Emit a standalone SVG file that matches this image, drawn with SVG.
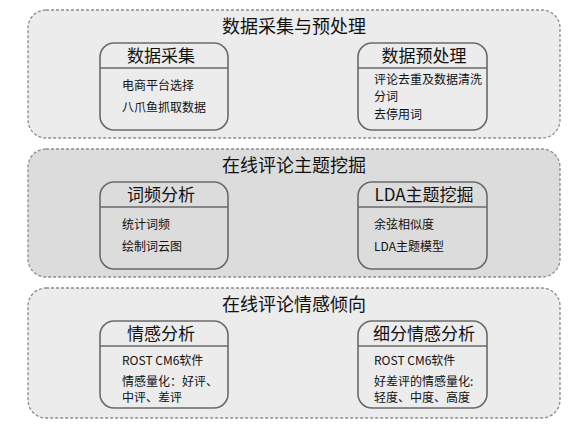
<svg xmlns="http://www.w3.org/2000/svg" width="571" height="428" viewBox="0 0 571 428">
<style>
.panel{stroke:#8c8c8c;stroke-width:1.3;stroke-dasharray:3 2}
.p1{fill:#ececec}
.p2{fill:#dcdcdc}
.box{fill:none;stroke:#6a6a6a;stroke-width:1.6}
.sep{stroke:#6a6a6a;stroke-width:1.6}
text{font-family:"Noto Sans CJK SC","Noto Sans",sans-serif;fill:#111}
.title{font-size:18px;text-anchor:middle}
.head{font-size:17px;text-anchor:middle}
.body{font-size:12px}
</style>
<rect width="571" height="428" fill="#ffffff"/>
<g id="panel-preprocess">
<rect class="panel p1" x="28" y="10" width="532" height="128" rx="18"/>
<text class="title" x="294" y="33">数据采集与预处理</text>
</g>
<g id="node-collect">
<rect class="box" x="100" y="43" width="128" height="87" rx="14"/>
<line class="sep" x1="100" y1="68" x2="228" y2="68"/>
<text class="head" x="161" y="62">数据采集</text>
<text class="body" x="122" y="90">电商平台选择</text>
<text class="body" x="122" y="112">八爪鱼抓取数据</text>
</g>
<g id="node-preprocess">
<rect class="box" x="358" y="43" width="129" height="87" rx="14"/>
<line class="sep" x1="358" y1="68" x2="487" y2="68"/>
<text class="head" x="424" y="62">数据预处理</text>
<text class="body" x="374" y="84">评论去重及数据清洗</text>
<text class="body" x="374" y="101">分词</text>
<text class="body" x="374" y="119">去停用词</text>
</g>
<g id="panel-topic">
<rect class="panel p2" x="28" y="149" width="532" height="128" rx="18"/>
<text class="title" x="294" y="172">在线评论主题挖掘</text>
</g>
<g id="node-freq">
<rect class="box" x="100" y="182" width="128" height="87" rx="14"/>
<line class="sep" x1="100" y1="207" x2="228" y2="207"/>
<text class="head" x="161" y="201">词频分析</text>
<text class="body" x="122" y="229">统计词频</text>
<text class="body" x="122" y="251">绘制词云图</text>
</g>
<g id="node-lda">
<rect class="box" x="358" y="182" width="129" height="87" rx="14"/>
<line class="sep" x1="358" y1="207" x2="487" y2="207"/>
<text class="head" x="424" y="201">LDA主题挖掘</text>
<text class="body" x="374" y="229">余弦相似度</text>
<text class="body" x="374" y="251">LDA主题模型</text>
</g>
<g id="panel-sentiment">
<rect class="panel p1" x="28" y="288" width="532" height="130" rx="18"/>
<text class="title" x="294" y="311">在线评论情感倾向</text>
</g>
<g id="node-sentiment">
<rect class="box" x="100" y="321" width="128" height="87" rx="14"/>
<line class="sep" x1="100" y1="346" x2="228" y2="346"/>
<text class="head" x="161" y="340">情感分析</text>
<text class="body" x="122" y="365">ROST CM6软件</text>
<text class="body" x="122" y="386">情感量化：好评、</text>
<text class="body" x="122" y="402">中评、差评</text>
</g>
<g id="node-fine-sentiment">
<rect class="box" x="358" y="321" width="129" height="87" rx="14"/>
<line class="sep" x1="358" y1="346" x2="487" y2="346"/>
<text class="head" x="424" y="340">细分情感分析</text>
<text class="body" x="374" y="365">ROST CM6软件</text>
<text class="body" x="374" y="386">好差评的情感量化:</text>
<text class="body" x="374" y="402">轻度、中度、高度</text>
</g>
<g id="connectors"/>
</svg>
